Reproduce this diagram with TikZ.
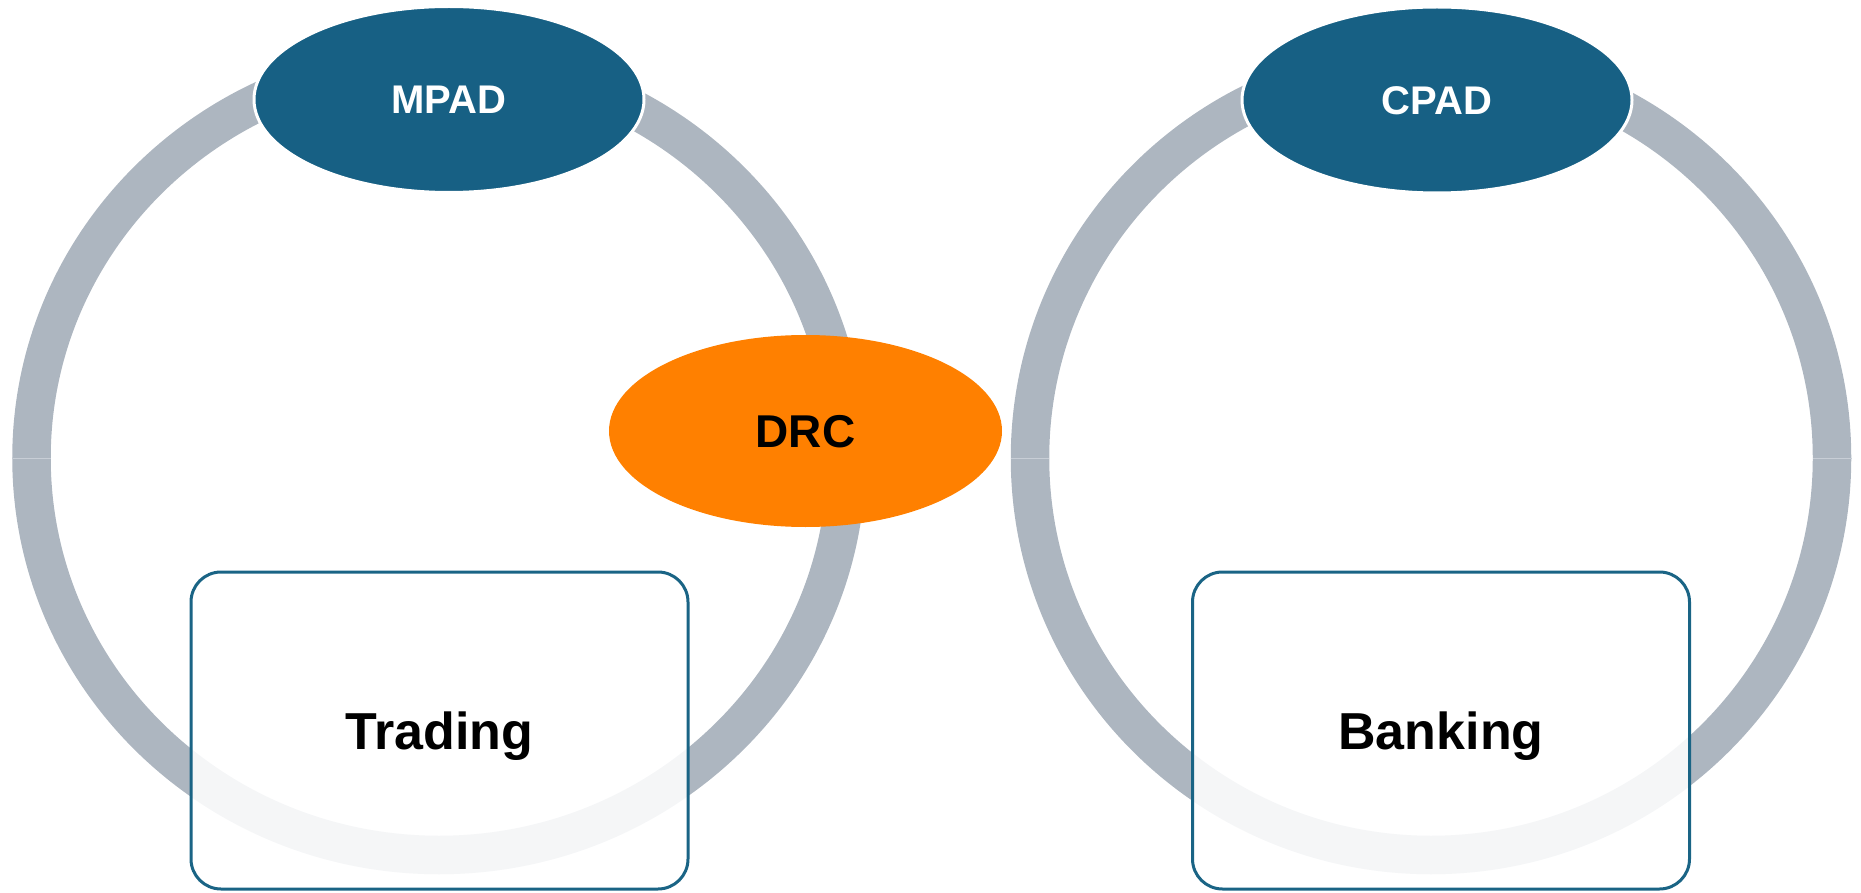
\documentclass[tikz,border=0pt]{standalone}
\usepackage{fontspec}
\setmainfont{Liberation Sans}
\usetikzlibrary{shapes.geometric}
\definecolor{ringgray}{HTML}{ADB6C0}
\definecolor{padblue}{HTML}{176084}
\definecolor{drcorange}{HTML}{FF8000}
\definecolor{boxline}{HTML}{1A6485}
\definecolor{seamcol}{HTML}{C8CED6}
\begin{document}
\begin{tikzpicture}[x=1pt,y=-1pt,
  ring/.style={draw=ringgray,line width=38.5pt},
  seamline/.style={draw=seamcol,line width=1pt},
  pad/.style={ellipse,fill=padblue,draw=white,line width=3pt,minimum width=390pt,minimum height=186pt,inner sep=0pt,text=white,text height=28.6pt,text depth=0pt,font=\fontsize{40}{48}\selectfont\bfseries},
  drc/.style={ellipse,fill=drcorange,minimum width=393pt,minimum height=192pt,inner sep=0pt,text height=33pt,text depth=0pt,font=\fontsize{46}{55}\selectfont\bfseries},
  area/.style={rectangle,rounded corners=30pt,draw=boxline,line width=3pt,fill=white,fill opacity=0.88,text opacity=1,minimum width=497pt,minimum height=317pt,text height=37pt,text depth=0pt,font=\fontsize{52}{62}\selectfont\bfseries}
]
\useasboundingbox (0,0) rectangle (1861,893);
% rings
\draw[ring] (439,458) ellipse [x radius=407.5pt,y radius=397pt];
\draw[ring] (1431,458) ellipse [x radius=401pt,y radius=397pt];
\draw[seamline] (12.7,458) -- (50.7,458);
\draw[seamline] (827.3,458) -- (865.3,458);
\draw[seamline] (1010.7,458) -- (1049,458);
\draw[seamline] (1813,458) -- (1851.7,458);
% nodes
\node[pad] (mpad) at (449,99.5) {MPAD};
\node[pad] (cpad) at (1437,100) {CPAD};
\node[drc] (drc) at (805.5,431) {DRC};
\node[area] (trading) at (439.5,730.5) {Trading};
\node[area] (banking) at (1441,730.5) {Banking};
\end{tikzpicture}
\end{document}
